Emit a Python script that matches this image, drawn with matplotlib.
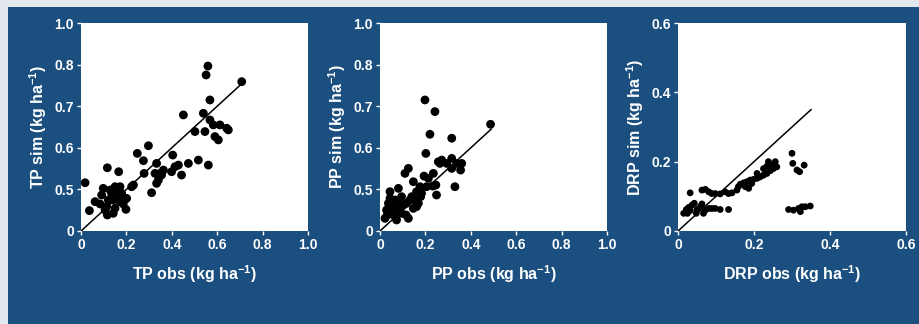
import matplotlib
matplotlib.use("Agg")
import matplotlib.pyplot as plt
from matplotlib.patches import Rectangle

plt.rcParams['font.family'] = ['Liberation Sans', 'DejaVu Sans']
plt.rcParams['font.weight'] = 'bold'
plt.rcParams['mathtext.fontset'] = 'custom'
plt.rcParams['mathtext.rm'] = 'Liberation Sans:bold'
plt.rcParams['mathtext.default'] = 'rm'

BLUE = '#1b4f7f'
EDGE = '#e3e8ee'

# TP panel (positions on a 0-1 axis)
tp_obs = [0.018, 0.037, 0.062, 0.084, 0.091, 0.098, 0.113, 0.116, 0.120, 0.128,
          0.135, 0.142, 0.150, 0.116, 0.166, 0.157, 0.164, 0.172, 0.179, 0.194,
          0.198, 0.201, 0.186, 0.142, 0.106, 0.231, 0.248, 0.275, 0.278, 0.297,
          0.311, 0.326, 0.333, 0.333, 0.341, 0.348, 0.355, 0.363, 0.399, 0.404,
          0.414, 0.429, 0.443, 0.451, 0.473, 0.502, 0.517, 0.539, 0.546, 0.551,
          0.559, 0.561, 0.568, 0.568, 0.583, 0.590, 0.605, 0.612, 0.642, 0.649,
          0.708, 0.223, 0.150, 0.172]
tp_sim = [0.232, 0.098, 0.141, 0.130, 0.173, 0.205, 0.117, 0.077, 0.149, 0.197,
          0.181, 0.149, 0.109, 0.304, 0.285, 0.165, 0.189, 0.141, 0.181, 0.152,
          0.104, 0.157, 0.130, 0.085, 0.101, 0.221, 0.373, 0.338, 0.277, 0.410,
          0.184, 0.277, 0.325, 0.229, 0.245, 0.277, 0.269, 0.293, 0.285, 0.365,
          0.309, 0.317, 0.269, 0.558, 0.325, 0.478, 0.341, 0.566, 0.478, 0.750,
          0.793, 0.317, 0.630, 0.534, 0.510, 0.454, 0.438, 0.510, 0.494, 0.486,
          0.718, 0.213, 0.213, 0.213]

# PP panel
pp_obs = [0.022, 0.029, 0.037, 0.044, 0.047, 0.051, 0.059, 0.066, 0.073, 0.076,
          0.081, 0.088, 0.095, 0.103, 0.110, 0.125, 0.125, 0.132, 0.140, 0.147,
          0.154, 0.161, 0.169, 0.176, 0.179, 0.183, 0.194, 0.198, 0.202, 0.205,
          0.213, 0.220, 0.232, 0.242, 0.249, 0.257, 0.264, 0.272, 0.294, 0.316,
          0.316, 0.330, 0.338, 0.355, 0.360, 0.487, 0.044, 0.117, 0.095, 0.161,
          0.032, 0.066, 0.147, 0.115, 0.235, 0.316, 0.246]
pp_sim = [0.061, 0.101, 0.133, 0.189, 0.085, 0.117, 0.077, 0.101, 0.053, 0.141,
          0.205, 0.109, 0.085, 0.125, 0.277, 0.061, 0.301, 0.149, 0.165, 0.237,
          0.149, 0.189, 0.133, 0.213, 0.165, 0.181, 0.264, 0.630, 0.373, 0.213,
          0.253, 0.465, 0.216, 0.574, 0.173, 0.333, 0.325, 0.341, 0.325, 0.446,
          0.349, 0.213, 0.325, 0.293, 0.325, 0.513, 0.157, 0.133, 0.165, 0.117,
          0.077, 0.149, 0.109, 0.077, 0.277, 0.301, 0.221]

# DRP panel
drp_obs = [0.015, 0.022, 0.028, 0.032, 0.037, 0.043, 0.050, 0.059, 0.063, 0.072,
           0.081, 0.089, 0.098, 0.111, 0.133, 0.025, 0.048, 0.067, 0.032, 0.063,
           0.072, 0.081, 0.089, 0.098, 0.111, 0.124, 0.133, 0.142, 0.155, 0.159,
           0.164, 0.173, 0.181, 0.190, 0.199, 0.208, 0.216, 0.225, 0.234, 0.243,
           0.251, 0.260, 0.208, 0.225, 0.234, 0.238, 0.247, 0.256, 0.177, 0.194,
           0.186, 0.300, 0.302, 0.313, 0.332, 0.320, 0.291, 0.304, 0.317, 0.326,
           0.335, 0.348, 0.322]
drp_sim = [0.051, 0.062, 0.068, 0.059, 0.075, 0.080, 0.062, 0.070, 0.078, 0.060,
           0.065, 0.065, 0.065, 0.062, 0.062, 0.051, 0.051, 0.051, 0.110, 0.118,
           0.120, 0.113, 0.108, 0.108, 0.107, 0.113, 0.108, 0.110, 0.118, 0.128,
           0.135, 0.139, 0.142, 0.147, 0.149, 0.152, 0.156, 0.161, 0.166, 0.174,
           0.180, 0.185, 0.166, 0.180, 0.187, 0.200, 0.190, 0.200, 0.128, 0.137,
           0.123, 0.224, 0.195, 0.176, 0.190, 0.171, 0.062, 0.060, 0.065, 0.070,
           0.070, 0.072, 0.056]

tp_ticks = [0, 0.2, 0.4, 0.6, 0.8, 1.0]
tp_xlabels = ['0', '0.2', '0.4', '0.6', '0.8', '1.0']
tp_ylabels = ['0', '0.5', '0.6', '0.7', '0.8', '1.0']
drp_ticks = [0, 0.2, 0.4, 0.6]
drp_labels = ['0', '0.2', '0.4', '0.6']

panels = [
    dict(x=tp_obs, y=tp_sim, lim=1.0, line_end=0.72, ticks=tp_ticks,
         xl=tp_xlabels, yl=tp_ylabels, s=40, name='TP',
         pos=[81 / 920, 93 / 324, 227 / 920, 208 / 324]),
    dict(x=pp_obs, y=pp_sim, lim=1.0, line_end=0.49, ticks=tp_ticks,
         xl=tp_xlabels, yl=tp_ylabels, s=40, name='PP',
         pos=[380 / 920, 93 / 324, 227 / 920, 208 / 324]),
    dict(x=drp_obs, y=drp_sim, lim=0.6, line_end=0.35, ticks=drp_ticks,
         xl=drp_labels, yl=drp_labels, s=24, name='DRP',
         pos=[678 / 920, 93 / 324, 228 / 920, 208 / 324]),
]

fig = plt.figure(figsize=(9.2, 3.24), dpi=100)
fig.patch.set_facecolor(EDGE)
bg = Rectangle((8 / 920, 0), 1, 317 / 324, transform=fig.transFigure,
               facecolor=BLUE, edgecolor='none', zorder=-10)
fig.add_artist(bg)

for p in panels:
    ax = fig.add_axes(p['pos'])
    ax.set_facecolor('white')
    ax.plot([0, p['line_end']], [0, p['line_end']], color='black', lw=1.1, zorder=2)
    ax.scatter(p['x'], p['y'], s=p['s'], color='black', edgecolors='none', zorder=3)
    ax.set_xlim(0, p['lim'])
    ax.set_ylim(0, p['lim'])
    ax.set_xticks(p['ticks'])
    ax.set_xticklabels(p['xl'])
    ax.set_yticks(p['ticks'])
    ax.set_yticklabels(p['yl'])
    for sp in ax.spines.values():
        sp.set_visible(False)
    ax.tick_params(colors='white', labelsize=10, length=3, width=1, pad=2)
    ax.set_xlabel(p['name'] + r' obs (kg ha$^{-1}$)', color='white', fontsize=11.5,
                  fontweight='bold', labelpad=8)
    ax.set_ylabel(p['name'] + r' sim (kg ha$^{-1}$)', color='white', fontsize=11.5,
                  fontweight='bold', labelpad=4)

fig.savefig('out.png', dpi=100, facecolor=fig.get_facecolor())
